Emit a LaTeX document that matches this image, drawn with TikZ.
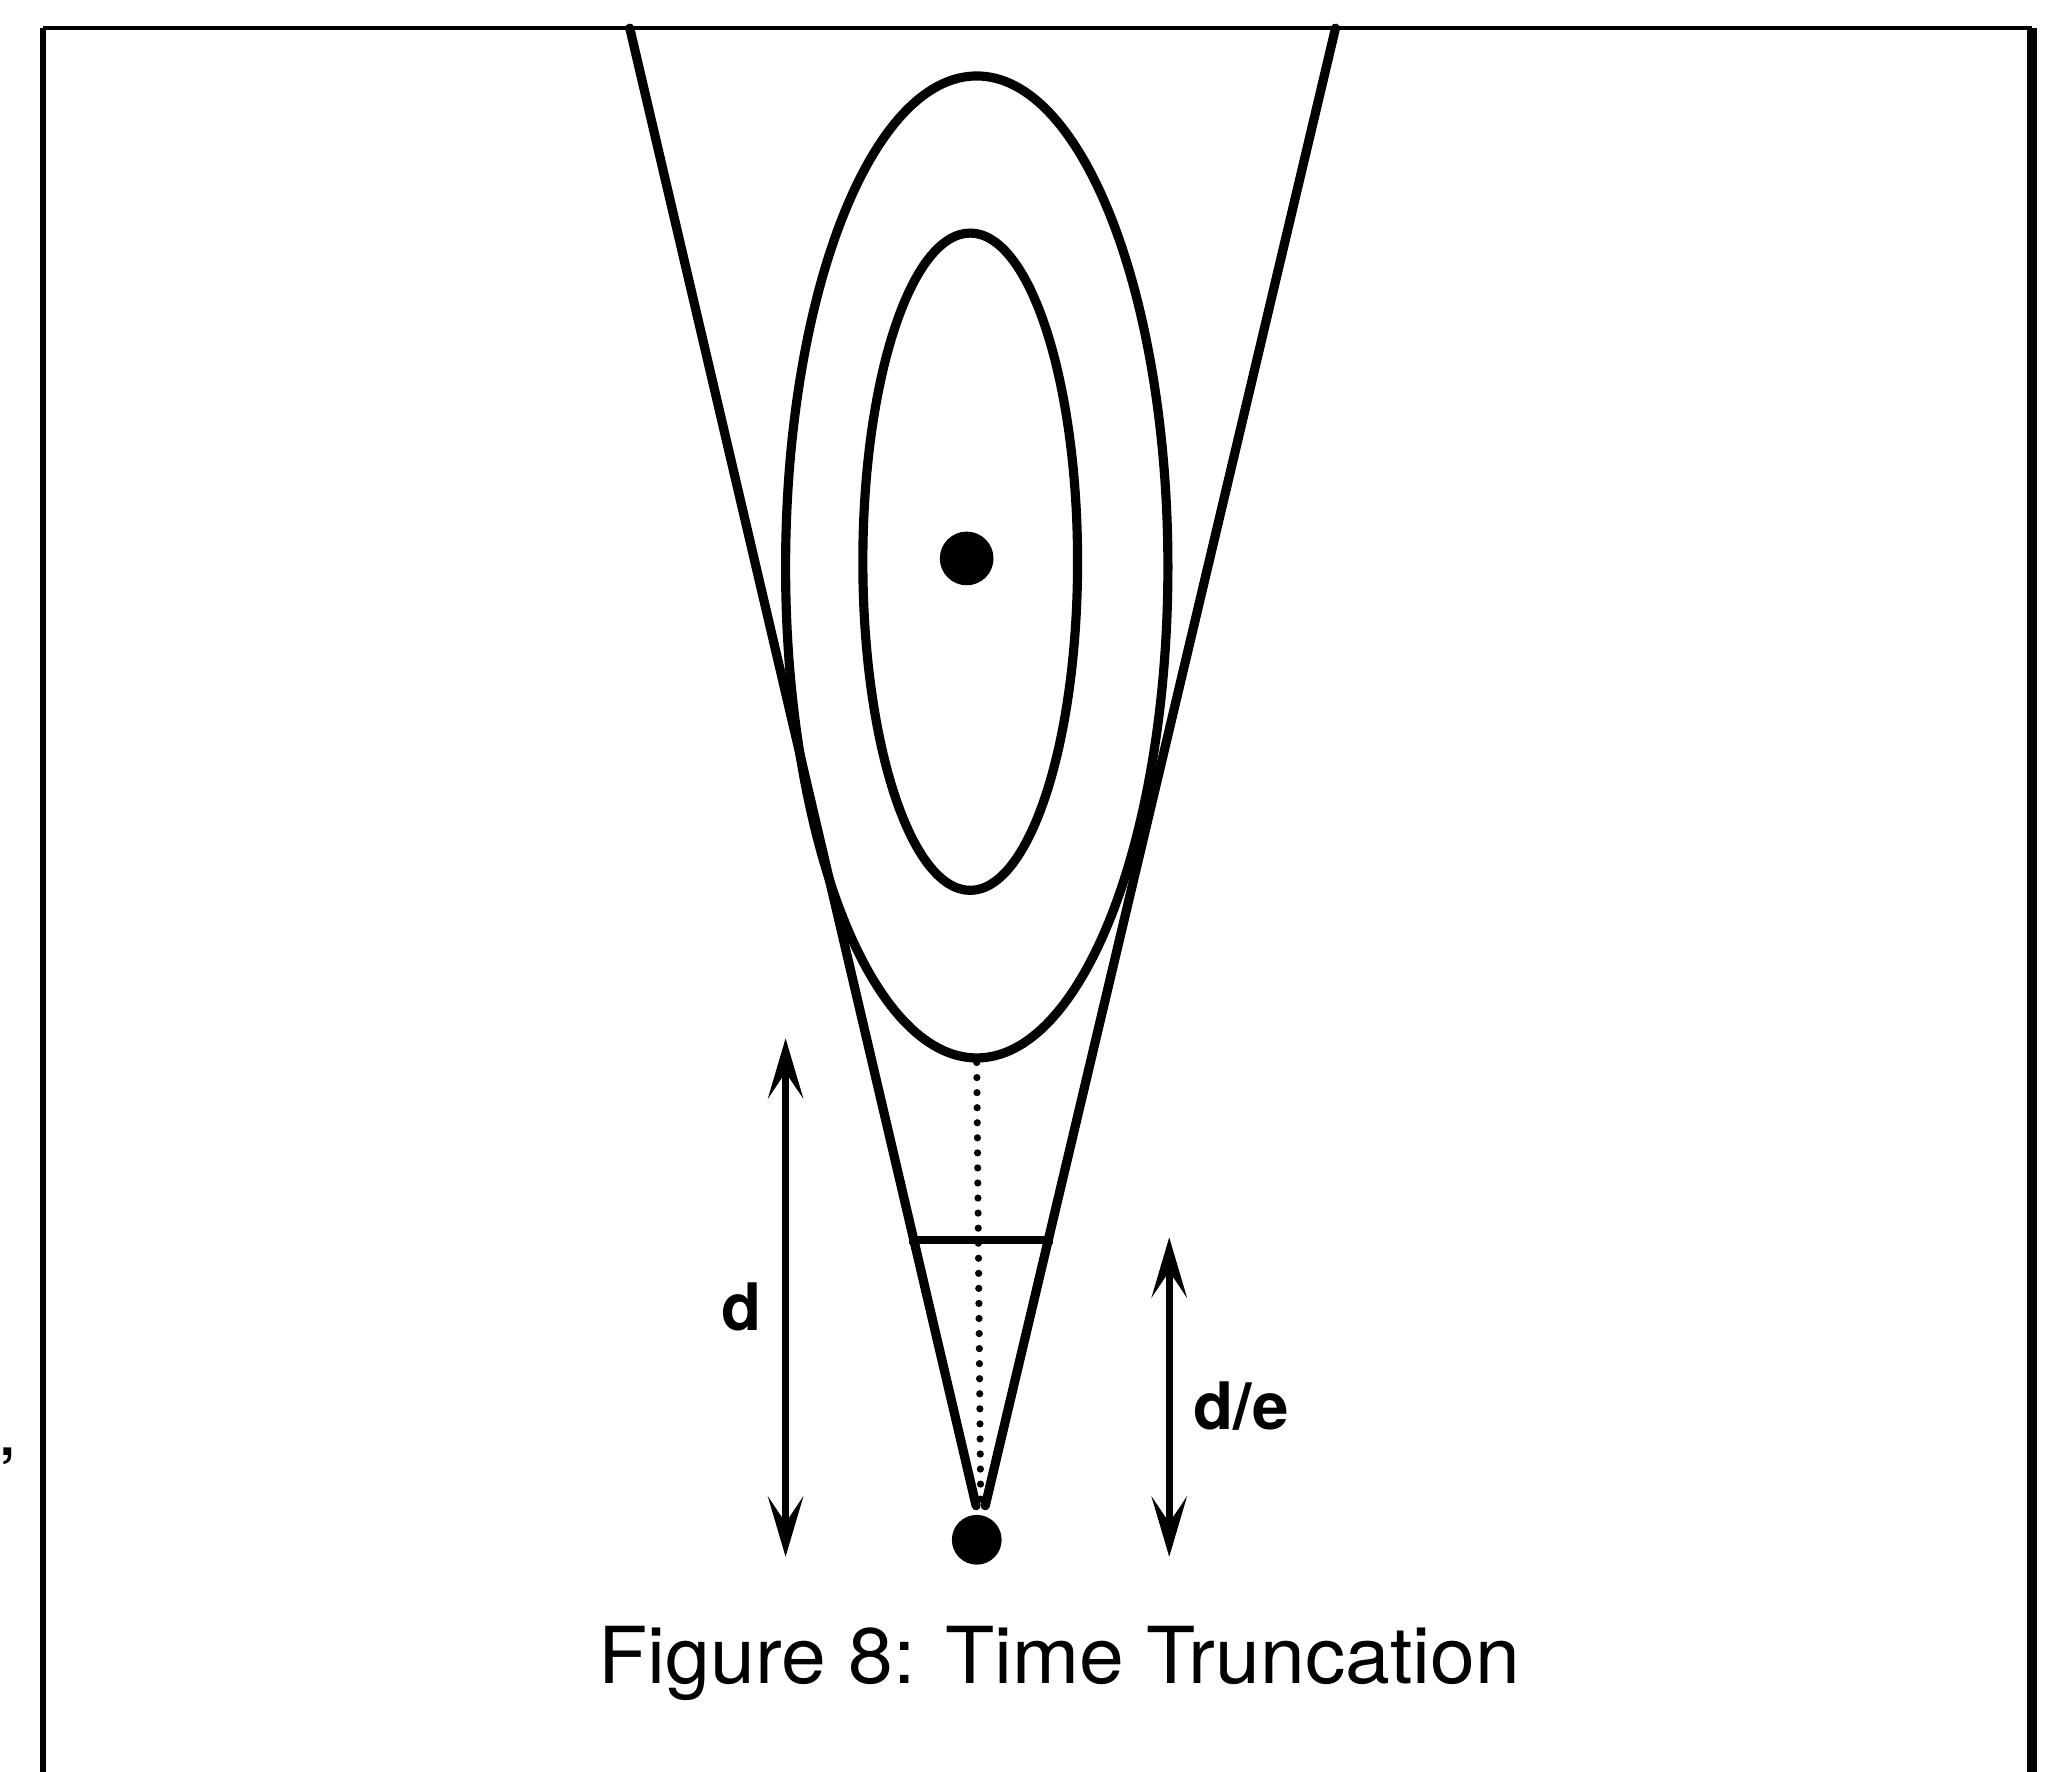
\documentclass[tikz,border=0pt]{standalone}
\usepackage{fontspec}
\setmainfont{TeX Gyre Heros}
\usetikzlibrary{arrows.meta,shapes.geometric,calc}
\begin{document}
\begin{tikzpicture}[x=1pt,y=-1pt,
  thick line/.style={line width=7pt,line join=round,line cap=round},
  dotline/.style={line width=5.5pt,line cap=round,dash pattern=on 0pt off 11.5pt},
  dimarrow/.style={line width=5.5pt,{Stealth[length=46pt,width=27pt,inset=20pt]}-{Stealth[length=46pt,width=27pt,inset=20pt]}},
  blob/.style={circle,fill=black,inner sep=0pt},
  ring/.style={ellipse,draw,line width=7pt,inner sep=0pt},
  lab/.style={font=\bfseries\fontsize{50}{54}\selectfont,inner sep=0pt,anchor=base},
  captext/.style={font=\fontsize{60}{64}\selectfont,inner sep=0pt,anchor=base}]
\useasboundingbox (0,0) rectangle (1568,1353);
% frame
\draw[line width=5pt] (33,1360) -- (33,21.5);
\draw[line width=3pt] (33,21.5) -- (1552,21.5);
\draw[line width=7pt] (1552,21.5) -- (1552,1360);
% cone
\coordinate (ctl) at (481,21.5);
\coordinate (al) at (745.5,1150);
\coordinate (ar) at (752.5,1150);
\coordinate (apex) at (749,1146);
\coordinate (ctr) at (1020,21.5);
\draw[thick line] (ctl) -- (al);
\draw[thick line] (ctr) -- (ar);
% ellipses
\node[ring,minimum width=292pt,minimum height=750pt] (outer) at (746,433) {};
\node[ring,minimum width=164pt,minimum height=502pt] (inner) at (741,429) {};
\node[blob,minimum size=41pt] (c) at (738.3,426.5) {};
\node[blob,minimum size=38pt] (b) at (746,1176) {};
% truncation line
\coordinate (hl) at (694,947);
\coordinate (hr) at (804,947);
\draw[line width=6pt] (hl) -- (hr);
\draw[dotline] (outer.south) -- (apex);
% dimension arrows
\coordinate (d1) at (600,793);
\coordinate (d2) at (600,1189);
\draw[dimarrow] (d1) -- (d2);
\node[lab] (dl) at (566,1016) {d};
\coordinate (e1) at (893,945);
\coordinate (e2) at (893,1189);
\draw[dimarrow] (e1) -- (e2);
\node[lab] (el) at (948,1092) {d/e};
% caption
\node[captext] (caption) at (809,1286) {\scalebox{1.025}[1]{Figure 8: Time Truncation}};
\node[font=\bfseries\fontsize{40}{44}\selectfont,inner sep=0pt,anchor=base west] (comma) at (0,1112) {,};
\end{tikzpicture}
\end{document}
